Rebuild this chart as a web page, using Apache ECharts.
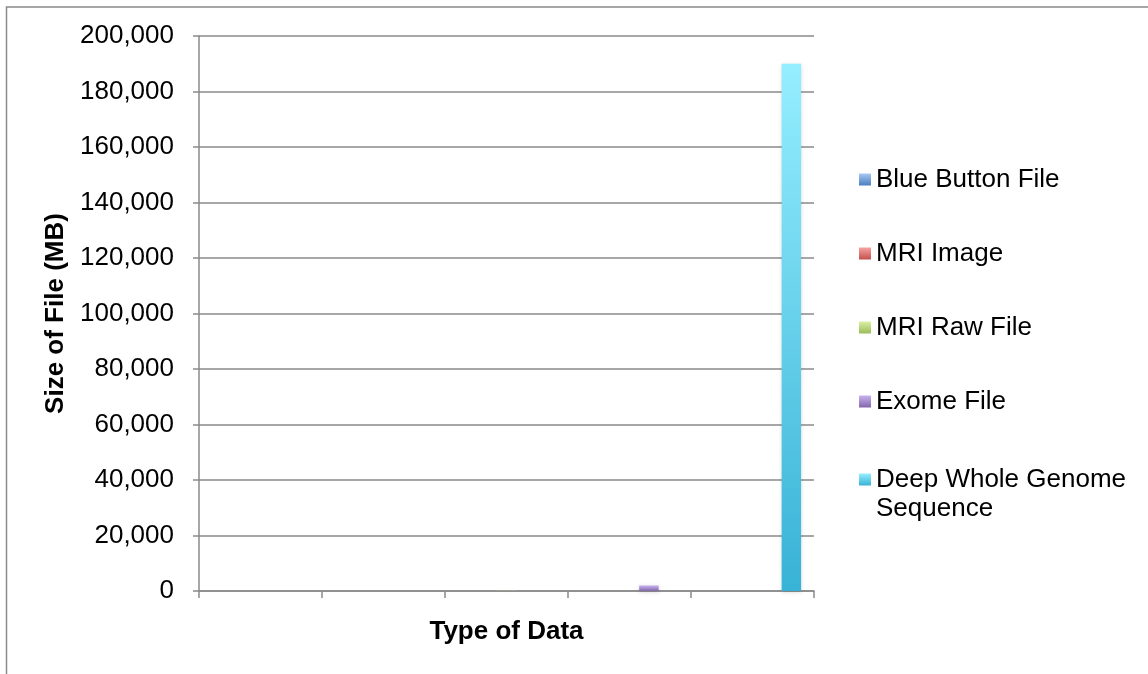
<!DOCTYPE html>
<html>
<head>
<meta charset="utf-8">
<style>
  html, body { margin: 0; padding: 0; background: #fff; }
  #chart { width: 1148px; height: 674px; }
</style>
<script src="https://cdn.jsdelivr.net/npm/echarts@6/dist/echarts.min.js"></script>
</head>
<body>
<div id="chart"></div>
<script>
// Unlabelled category slots along the x axis, one per file type
const categories = ['', '', '', '', ''];

// File sizes in MB; each file type occupies its own slot
const blueButtonFile = [0.01, '-', '-', '-', '-'];
const mriImage = ['-', 5, '-', '-', '-'];
const mriRawFile = ['-', '-', 50, '-', '-'];
const exomeFile = ['-', '-', '-', 2000, '-'];
const deepWholeGenome = ['-', '-', '-', '-', 190000];

const seriesNames = ['Blue Button File', 'MRI Image', 'MRI Raw File', 'Exome File', 'Deep Whole Genome Sequence'];
const seriesValues = [blueButtonFile, mriImage, mriRawFile, exomeFile, deepWholeGenome];

// Vertical gradient fills (light top, saturated bottom)
const palette = [
  ['#a6c8f2', '#4a7fc0'],
  ['#f7a3a1', '#c4504c'],
  ['#d9f0a3', '#9bbb59'],
  ['#c9b2ef', '#8366ac'],
  ['#95eeff', '#38b2d6']
];

const FONT = '"Liberation Sans", Arial, sans-serif';
const FS = 26;
const LH = 29;
const AXIS_GRAY = '#8a8a8a';

const chart = echarts.init(document.getElementById('chart'));

function grad(c) {
  return new echarts.graphic.LinearGradient(0, 0, 0, 1, [
    { offset: 0, color: c[0] },
    { offset: 1, color: c[1] }
  ]);
}

const series = seriesNames.map((name, i) => ({
  name: name,
  type: 'bar',
  data: seriesValues[i],
  barGap: '0%',
  barCategoryGap: '21%',
  itemStyle: {
    color: grad(palette[i]),
    shadowBlur: 4,
    shadowColor: 'rgba(0,0,0,0.16)',
    shadowOffsetY: 1
  },
  emphasis: { disabled: true }
}));

const legendText = { fontFamily: FONT, fontSize: FS, color: '#000', lineHeight: LH };
const legendIcon = { itemWidth: 12, itemHeight: 12, icon: 'rect', itemStyle: { shadowBlur: 0 } };

chart.setOption({
  animation: false,
  backgroundColor: '#fff',
  textStyle: { fontFamily: FONT },
  grid: { left: 199, right: 334, top: 36, bottom: 83, containLabel: false },
  graphic: [{
    type: 'rect',
    shape: { x: 6.5, y: 7, width: 1200, height: 700 },
    style: { fill: 'none', stroke: '#8a8a8a', lineWidth: 1.5 },
    silent: true,
    z: -1
  }],
  legend: [Object.assign({
    orient: 'vertical',
    left: 859,
    top: 165,
    padding: 0,
    itemGap: 45,
    data: seriesNames.slice(0, 4),
    textStyle: legendText,
    selectedMode: false
  }, legendIcon), Object.assign({
    orient: 'vertical',
    left: 859,
    top: 436,
    padding: 0,
    data: [seriesNames[4]],
    // leading blank line keeps the marker level with the first text line
    formatter: () => '\nDeep Whole Genome\nSequence',
    textStyle: legendText,
    selectedMode: false
  }, legendIcon)],
  xAxis: {
    type: 'category',
    data: categories,
    name: 'Type of Data',
    nameLocation: 'middle',
    nameGap: 28,
    nameTextStyle: { fontFamily: FONT, fontSize: FS, fontWeight: 'bold', color: '#000' },
    axisLine: { lineStyle: { color: AXIS_GRAY, width: 1.5 } },
    axisTick: { show: true, length: 7, lineStyle: { color: AXIS_GRAY, width: 1.5 } },
    axisLabel: { show: false },
    splitLine: { show: false }
  },
  yAxis: {
    type: 'value',
    min: 0,
    max: 200000,
    interval: 20000,
    name: 'Size of File (MB)',
    nameLocation: 'middle',
    nameGap: 130,
    nameRotate: 90,
    nameTextStyle: { fontFamily: FONT, fontSize: FS, fontWeight: 'bold', color: '#000' },
    axisLine: { show: true, lineStyle: { color: AXIS_GRAY, width: 1.5 } },
    axisTick: { show: true, length: 6, lineStyle: { color: AXIS_GRAY, width: 1.5 } },
    axisLabel: {
      margin: 25,
      fontFamily: FONT,
      fontSize: FS,
      color: '#000',
      formatter: v => v.toLocaleString('en-US')
    },
    splitLine: { show: true, lineStyle: { color: AXIS_GRAY, width: 1.5 } }
  },
  series: series
});
</script>
</body>
</html>
